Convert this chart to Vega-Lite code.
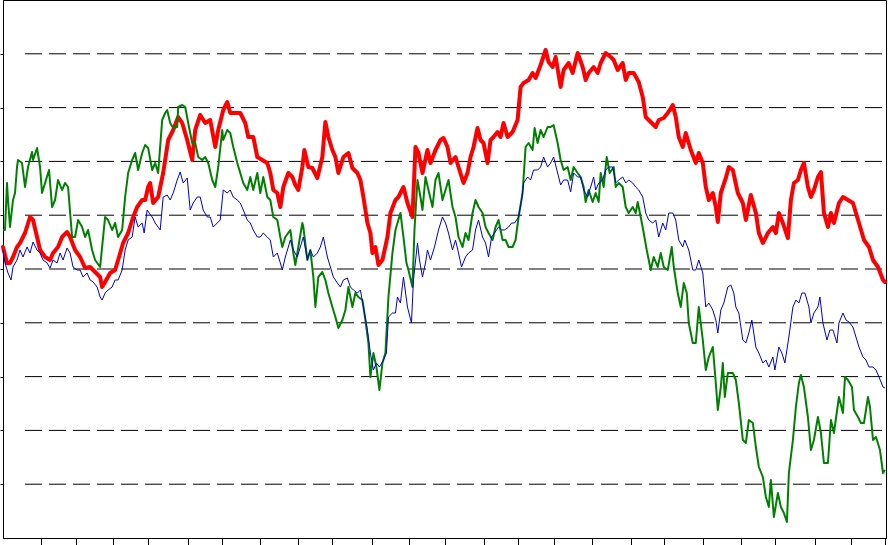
{
  "$schema": "https://vega.github.io/schema/vega-lite/v6.json",
  "width": 883,
  "height": 538,
  "autosize": {"type": "none"},
  "padding": {"left": 3, "top": 0, "right": 2, "bottom": 7},
  "background": "white",
  "config": {
    "view": {"stroke": "black", "strokeWidth": 1}
  },
  "datasets": {
    "grid": [{"g":53.8},{"g":107.6},{"g":161.4},{"g":215.2},{"g":269},{"g":322.8},{"g":376.6},{"g":430.4},{"g":484.2}],
    "red": [
      {"t":0,"v":291},{"t":4,"v":275},{"t":7,"v":275},{"t":10,"v":281},{"t":14,"v":291},{"t":17,"v":295},{"t":22,"v":305},{"t":27,"v":321},{"t":30,"v":318},{"t":34,"v":301},{"t":37,"v":288},{"t":42,"v":281},{"t":47,"v":278},{"t":50,"v":285},{"t":55,"v":291},{"t":59,"v":301},{"t":64,"v":306},{"t":67,"v":301},{"t":72,"v":288},{"t":77,"v":281},{"t":82,"v":270},{"t":87,"v":271},{"t":92,"v":266},{"t":97,"v":261},{"t":99,"v":251},{"t":102,"v":256},{"t":107,"v":265},{"t":112,"v":268},{"t":115,"v":278},{"t":120,"v":295},{"t":125,"v":305},{"t":130,"v":321},{"t":134,"v":331},{"t":139,"v":338},{"t":142,"v":338},{"t":145,"v":351},{"t":147,"v":355},{"t":150,"v":335},{"t":155,"v":341},{"t":160,"v":365},{"t":165,"v":398},{"t":170,"v":408},{"t":175,"v":421},{"t":179,"v":415},{"t":184,"v":398},{"t":189,"v":378},{"t":192,"v":408},{"t":197,"v":423},{"t":202,"v":415},{"t":207,"v":418},{"t":212,"v":391},{"t":215,"v":408},{"t":220,"v":428},{"t":224,"v":436},{"t":227,"v":425},{"t":232,"v":425},{"t":237,"v":425},{"t":242,"v":415},{"t":245,"v":401},{"t":250,"v":401},{"t":254,"v":381},{"t":259,"v":378},{"t":264,"v":375},{"t":267,"v":365},{"t":270,"v":348},{"t":274,"v":345},{"t":277,"v":331},{"t":280,"v":351},{"t":285,"v":365},{"t":289,"v":361},{"t":292,"v":353},{"t":295,"v":348},{"t":299,"v":371},{"t":301,"v":388},{"t":305,"v":371},{"t":309,"v":370},{"t":314,"v":360},{"t":319,"v":381},{"t":322,"v":416},{"t":325,"v":401},{"t":329,"v":388},{"t":332,"v":381},{"t":335,"v":365},{"t":340,"v":381},{"t":345,"v":385},{"t":349,"v":370},{"t":354,"v":365},{"t":357,"v":358},{"t":360,"v":341},{"t":364,"v":315},{"t":367,"v":305},{"t":369,"v":285},{"t":372,"v":291},{"t":375,"v":273},{"t":379,"v":278},{"t":384,"v":301},{"t":387,"v":325},{"t":392,"v":338},{"t":395,"v":341},{"t":400,"v":351},{"t":404,"v":335},{"t":409,"v":321},{"t":412,"v":391},{"t":415,"v":385},{"t":419,"v":365},{"t":424,"v":388},{"t":427,"v":375},{"t":432,"v":388},{"t":437,"v":398},{"t":440,"v":400},{"t":444,"v":391},{"t":447,"v":375},{"t":452,"v":381},{"t":455,"v":371},{"t":460,"v":355},{"t":464,"v":365},{"t":467,"v":381},{"t":470,"v":391},{"t":474,"v":410},{"t":477,"v":398},{"t":480,"v":395},{"t":484,"v":375},{"t":487,"v":398},{"t":490,"v":401},{"t":494,"v":406},{"t":497,"v":401},{"t":500,"v":415},{"t":504,"v":401},{"t":509,"v":406},{"t":514,"v":418},{"t":517,"v":451},{"t":520,"v":455},{"t":525,"v":458},{"t":529,"v":465},{"t":532,"v":460},{"t":537,"v":473},{"t":542,"v":488},{"t":545,"v":476},{"t":549,"v":471},{"t":552,"v":481},{"t":557,"v":451},{"t":560,"v":468},{"t":565,"v":475},{"t":569,"v":465},{"t":574,"v":485},{"t":579,"v":471},{"t":582,"v":458},{"t":585,"v":465},{"t":590,"v":471},{"t":594,"v":465},{"t":597,"v":475},{"t":602,"v":485},{"t":607,"v":481},{"t":610,"v":478},{"t":614,"v":468},{"t":619,"v":475},{"t":622,"v":458},{"t":625,"v":465},{"t":630,"v":465},{"t":635,"v":456},{"t":639,"v":441},{"t":642,"v":421},{"t":647,"v":416},{"t":652,"v":411},{"t":655,"v":418},{"t":660,"v":420},{"t":664,"v":425},{"t":669,"v":433},{"t":672,"v":421},{"t":675,"v":401},{"t":679,"v":391},{"t":682,"v":405},{"t":687,"v":388},{"t":692,"v":375},{"t":695,"v":385},{"t":699,"v":375},{"t":702,"v":351},{"t":705,"v":338},{"t":709,"v":345},{"t":712,"v":331},{"t":714,"v":316},{"t":717,"v":345},{"t":722,"v":360},{"t":725,"v":371},{"t":729,"v":368},{"t":734,"v":345},{"t":739,"v":335},{"t":742,"v":318},{"t":747,"v":343},{"t":752,"v":325},{"t":755,"v":305},{"t":759,"v":295},{"t":764,"v":305},{"t":769,"v":311},{"t":772,"v":305},{"t":775,"v":325},{"t":779,"v":315},{"t":784,"v":300},{"t":787,"v":338},{"t":790,"v":355},{"t":794,"v":358},{"t":797,"v":368},{"t":800,"v":375},{"t":804,"v":351},{"t":807,"v":341},{"t":810,"v":348},{"t":814,"v":361},{"t":817,"v":366},{"t":820,"v":325},{"t":824,"v":311},{"t":827,"v":325},{"t":830,"v":315},{"t":835,"v":335},{"t":839,"v":341},{"t":844,"v":338},{"t":849,"v":335},{"t":852,"v":325},{"t":855,"v":315},{"t":860,"v":298},{"t":865,"v":291},{"t":869,"v":278},{"t":874,"v":271},{"t":879,"v":258},{"t":881,"v":256}
    ],
    "green": [
      {"t":0,"v":308},{"t":2,"v":308},{"t":4,"v":355},{"t":5,"v":338},{"t":7,"v":311},{"t":10,"v":338},{"t":12,"v":345},{"t":14,"v":371},{"t":15,"v":378},{"t":19,"v":375},{"t":22,"v":351},{"t":25,"v":371},{"t":29,"v":386},{"t":30,"v":378},{"t":34,"v":390},{"t":37,"v":371},{"t":39,"v":345},{"t":42,"v":355},{"t":46,"v":368},{"t":49,"v":331},{"t":52,"v":338},{"t":55,"v":358},{"t":59,"v":348},{"t":62,"v":355},{"t":65,"v":351},{"t":69,"v":301},{"t":72,"v":301},{"t":75,"v":318},{"t":79,"v":311},{"t":82,"v":301},{"t":85,"v":308},{"t":89,"v":288},{"t":92,"v":278},{"t":97,"v":271},{"t":102,"v":321},{"t":105,"v":318},{"t":109,"v":308},{"t":112,"v":315},{"t":115,"v":301},{"t":119,"v":308},{"t":122,"v":341},{"t":125,"v":365},{"t":129,"v":378},{"t":132,"v":385},{"t":135,"v":368},{"t":139,"v":385},{"t":142,"v":393},{"t":145,"v":390},{"t":149,"v":368},{"t":152,"v":375},{"t":155,"v":365},{"t":159,"v":418},{"t":162,"v":425},{"t":164,"v":428},{"t":167,"v":415},{"t":170,"v":410},{"t":174,"v":411},{"t":175,"v":431},{"t":179,"v":433},{"t":182,"v":431},{"t":185,"v":415},{"t":189,"v":395},{"t":192,"v":395},{"t":195,"v":381},{"t":199,"v":378},{"t":202,"v":381},{"t":205,"v":375},{"t":209,"v":358},{"t":212,"v":351},{"t":215,"v":371},{"t":219,"v":408},{"t":220,"v":398},{"t":224,"v":408},{"t":227,"v":405},{"t":230,"v":391},{"t":234,"v":375},{"t":237,"v":365},{"t":240,"v":355},{"t":244,"v":348},{"t":247,"v":361},{"t":250,"v":348},{"t":254,"v":365},{"t":257,"v":345},{"t":260,"v":361},{"t":264,"v":341},{"t":267,"v":338},{"t":270,"v":321},{"t":274,"v":318},{"t":277,"v":301},{"t":279,"v":291},{"t":282,"v":301},{"t":287,"v":308},{"t":290,"v":285},{"t":292,"v":273},{"t":295,"v":291},{"t":299,"v":315},{"t":300,"v":311},{"t":304,"v":278},{"t":307,"v":288},{"t":310,"v":261},{"t":312,"v":231},{"t":315,"v":261},{"t":319,"v":266},{"t":322,"v":258},{"t":325,"v":245},{"t":329,"v":231},{"t":332,"v":221},{"t":335,"v":210},{"t":339,"v":218},{"t":342,"v":228},{"t":345,"v":251},{"t":349,"v":231},{"t":352,"v":245},{"t":355,"v":241},{"t":359,"v":238},{"t":362,"v":218},{"t":365,"v":195},{"t":367,"v":161},{"t":370,"v":185},{"t":373,"v":171},{"t":376,"v":148},{"t":379,"v":175},{"t":382,"v":185},{"t":385,"v":241},{"t":389,"v":285},{"t":392,"v":308},{"t":397,"v":325},{"t":400,"v":301},{"t":403,"v":275},{"t":405,"v":268},{"t":409,"v":251},{"t":411,"v":308},{"t":414,"v":358},{"t":417,"v":341},{"t":419,"v":328},{"t":422,"v":361},{"t":425,"v":348},{"t":429,"v":331},{"t":432,"v":358},{"t":435,"v":365},{"t":439,"v":338},{"t":442,"v":348},{"t":445,"v":358},{"t":449,"v":331},{"t":452,"v":321},{"t":455,"v":301},{"t":459,"v":291},{"t":462,"v":305},{"t":465,"v":298},{"t":469,"v":325},{"t":472,"v":338},{"t":475,"v":331},{"t":479,"v":325},{"t":482,"v":311},{"t":485,"v":305},{"t":489,"v":298},{"t":492,"v":311},{"t":495,"v":318},{"t":499,"v":298},{"t":502,"v":298},{"t":505,"v":291},{"t":509,"v":291},{"t":512,"v":298},{"t":515,"v":321},{"t":519,"v":345},{"t":522,"v":391},{"t":525,"v":395},{"t":529,"v":388},{"t":531,"v":410},{"t":534,"v":395},{"t":537,"v":408},{"t":540,"v":401},{"t":544,"v":411},{"t":547,"v":411},{"t":550,"v":413},{"t":554,"v":395},{"t":557,"v":378},{"t":560,"v":368},{"t":564,"v":371},{"t":567,"v":358},{"t":570,"v":371},{"t":574,"v":365},{"t":577,"v":361},{"t":580,"v":351},{"t":582,"v":336},{"t":585,"v":348},{"t":589,"v":336},{"t":592,"v":345},{"t":595,"v":336},{"t":597,"v":365},{"t":600,"v":351},{"t":603,"v":381},{"t":606,"v":365},{"t":610,"v":371},{"t":612,"v":351},{"t":615,"v":355},{"t":619,"v":351},{"t":622,"v":331},{"t":625,"v":325},{"t":629,"v":331},{"t":632,"v":325},{"t":634,"v":336},{"t":637,"v":321},{"t":640,"v":305},{"t":643,"v":288},{"t":647,"v":268},{"t":650,"v":281},{"t":654,"v":271},{"t":657,"v":285},{"t":660,"v":271},{"t":664,"v":268},{"t":668,"v":291},{"t":670,"v":271},{"t":674,"v":245},{"t":677,"v":231},{"t":680,"v":255},{"t":683,"v":245},{"t":685,"v":215},{"t":689,"v":195},{"t":692,"v":195},{"t":695,"v":231},{"t":699,"v":198},{"t":702,"v":168},{"t":705,"v":181},{"t":709,"v":191},{"t":712,"v":155},{"t":714,"v":128},{"t":717,"v":151},{"t":719,"v":175},{"t":721,"v":141},{"t":724,"v":165},{"t":729,"v":165},{"t":732,"v":158},{"t":735,"v":135},{"t":739,"v":98},{"t":742,"v":95},{"t":745,"v":118},{"t":749,"v":115},{"t":752,"v":91},{"t":755,"v":71},{"t":759,"v":61},{"t":762,"v":41},{"t":765,"v":31},{"t":767,"v":58},{"t":770,"v":21},{"t":774,"v":45},{"t":777,"v":31},{"t":780,"v":25},{"t":783,"v":16},{"t":785,"v":65},{"t":789,"v":98},{"t":792,"v":131},{"t":795,"v":155},{"t":797,"v":163},{"t":800,"v":151},{"t":804,"v":121},{"t":807,"v":88},{"t":810,"v":98},{"t":814,"v":121},{"t":817,"v":105},{"t":820,"v":75},{"t":824,"v":75},{"t":827,"v":118},{"t":830,"v":105},{"t":835,"v":141},{"t":839,"v":125},{"t":841,"v":161},{"t":844,"v":158},{"t":848,"v":151},{"t":850,"v":128},{"t":854,"v":121},{"t":857,"v":115},{"t":860,"v":115},{"t":864,"v":141},{"t":866,"v":131},{"t":869,"v":98},{"t":872,"v":101},{"t":876,"v":88},{"t":879,"v":65},{"t":881,"v":68}
    ],
    "blue": [
      {"t":0,"v":288},{"t":2,"v":275},{"t":5,"v":265},{"t":8,"v":258},{"t":10,"v":271},{"t":14,"v":278},{"t":17,"v":288},{"t":20,"v":281},{"t":24,"v":291},{"t":27,"v":285},{"t":30,"v":296},{"t":34,"v":288},{"t":37,"v":285},{"t":40,"v":278},{"t":44,"v":275},{"t":47,"v":270},{"t":50,"v":278},{"t":54,"v":275},{"t":57,"v":285},{"t":60,"v":278},{"t":64,"v":290},{"t":67,"v":285},{"t":70,"v":271},{"t":74,"v":268},{"t":77,"v":268},{"t":80,"v":261},{"t":84,"v":265},{"t":87,"v":258},{"t":90,"v":256},{"t":94,"v":251},{"t":97,"v":241},{"t":99,"v":238},{"t":102,"v":245},{"t":105,"v":248},{"t":109,"v":251},{"t":112,"v":258},{"t":115,"v":258},{"t":119,"v":268},{"t":122,"v":288},{"t":125,"v":298},{"t":129,"v":301},{"t":132,"v":321},{"t":135,"v":311},{"t":139,"v":315},{"t":141,"v":305},{"t":144,"v":328},{"t":146,"v":325},{"t":149,"v":321},{"t":152,"v":315},{"t":157,"v":308},{"t":160,"v":341},{"t":164,"v":343},{"t":167,"v":338},{"t":170,"v":345},{"t":174,"v":358},{"t":177,"v":366},{"t":180,"v":355},{"t":184,"v":360},{"t":187,"v":328},{"t":190,"v":335},{"t":194,"v":341},{"t":197,"v":341},{"t":200,"v":328},{"t":204,"v":321},{"t":207,"v":321},{"t":210,"v":311},{"t":214,"v":315},{"t":217,"v":318},{"t":220,"v":348},{"t":224,"v":345},{"t":227,"v":348},{"t":230,"v":341},{"t":234,"v":338},{"t":237,"v":335},{"t":240,"v":328},{"t":244,"v":318},{"t":247,"v":315},{"t":250,"v":308},{"t":254,"v":301},{"t":257,"v":301},{"t":260,"v":305},{"t":264,"v":301},{"t":267,"v":298},{"t":270,"v":281},{"t":274,"v":285},{"t":277,"v":275},{"t":279,"v":268},{"t":282,"v":281},{"t":285,"v":291},{"t":287,"v":298},{"t":290,"v":288},{"t":294,"v":281},{"t":297,"v":291},{"t":300,"v":301},{"t":304,"v":278},{"t":307,"v":288},{"t":310,"v":281},{"t":314,"v":285},{"t":317,"v":291},{"t":320,"v":301},{"t":324,"v":281},{"t":327,"v":271},{"t":330,"v":261},{"t":334,"v":255},{"t":337,"v":251},{"t":340,"v":258},{"t":344,"v":260},{"t":347,"v":251},{"t":350,"v":248},{"t":354,"v":245},{"t":357,"v":248},{"t":360,"v":231},{"t":364,"v":208},{"t":367,"v":185},{"t":370,"v":168},{"t":373,"v":175},{"t":376,"v":171},{"t":380,"v":178},{"t":383,"v":185},{"t":385,"v":221},{"t":389,"v":225},{"t":392,"v":225},{"t":394,"v":241},{"t":397,"v":235},{"t":400,"v":261},{"t":404,"v":231},{"t":408,"v":215},{"t":410,"v":258},{"t":414,"v":295},{"t":416,"v":278},{"t":419,"v":261},{"t":422,"v":275},{"t":424,"v":288},{"t":427,"v":278},{"t":431,"v":291},{"t":435,"v":308},{"t":439,"v":321},{"t":442,"v":315},{"t":445,"v":305},{"t":449,"v":288},{"t":452,"v":298},{"t":455,"v":285},{"t":458,"v":271},{"t":462,"v":281},{"t":465,"v":285},{"t":469,"v":288},{"t":472,"v":308},{"t":475,"v":318},{"t":479,"v":301},{"t":482,"v":295},{"t":485,"v":281},{"t":488,"v":301},{"t":491,"v":305},{"t":495,"v":311},{"t":498,"v":308},{"t":501,"v":308},{"t":505,"v":311},{"t":508,"v":315},{"t":511,"v":315},{"t":515,"v":321},{"t":518,"v":338},{"t":520,"v":355},{"t":524,"v":361},{"t":527,"v":358},{"t":530,"v":368},{"t":534,"v":368},{"t":537,"v":371},{"t":540,"v":381},{"t":544,"v":371},{"t":547,"v":375},{"t":550,"v":381},{"t":554,"v":365},{"t":557,"v":353},{"t":560,"v":358},{"t":564,"v":358},{"t":567,"v":346},{"t":570,"v":365},{"t":574,"v":361},{"t":577,"v":361},{"t":580,"v":348},{"t":584,"v":341},{"t":587,"v":351},{"t":590,"v":361},{"t":592,"v":348},{"t":595,"v":355},{"t":599,"v":358},{"t":602,"v":368},{"t":605,"v":371},{"t":609,"v":371},{"t":612,"v":355},{"t":615,"v":358},{"t":619,"v":361},{"t":622,"v":355},{"t":625,"v":358},{"t":629,"v":355},{"t":632,"v":351},{"t":635,"v":348},{"t":639,"v":341},{"t":642,"v":325},{"t":645,"v":318},{"t":649,"v":315},{"t":652,"v":318},{"t":655,"v":301},{"t":659,"v":315},{"t":662,"v":308},{"t":665,"v":325},{"t":669,"v":325},{"t":672,"v":318},{"t":675,"v":298},{"t":679,"v":291},{"t":681,"v":298},{"t":685,"v":288},{"t":689,"v":268},{"t":692,"v":268},{"t":695,"v":278},{"t":699,"v":265},{"t":702,"v":231},{"t":705,"v":235},{"t":709,"v":228},{"t":712,"v":218},{"t":714,"v":205},{"t":717,"v":228},{"t":720,"v":235},{"t":724,"v":251},{"t":727,"v":253},{"t":730,"v":245},{"t":732,"v":231},{"t":735,"v":225},{"t":739,"v":198},{"t":742,"v":195},{"t":745,"v":205},{"t":748,"v":218},{"t":752,"v":191},{"t":755,"v":185},{"t":759,"v":175},{"t":762,"v":178},{"t":765,"v":171},{"t":769,"v":181},{"t":771,"v":168},{"t":775,"v":191},{"t":778,"v":185},{"t":781,"v":175},{"t":785,"v":201},{"t":789,"v":231},{"t":792,"v":238},{"t":795,"v":235},{"t":798,"v":245},{"t":801,"v":245},{"t":805,"v":231},{"t":807,"v":215},{"t":810,"v":225},{"t":814,"v":231},{"t":816,"v":241},{"t":819,"v":215},{"t":823,"v":198},{"t":826,"v":208},{"t":829,"v":208},{"t":833,"v":195},{"t":835,"v":215},{"t":839,"v":225},{"t":842,"v":218},{"t":845,"v":216},{"t":849,"v":211},{"t":852,"v":201},{"t":855,"v":191},{"t":859,"v":181},{"t":862,"v":178},{"t":865,"v":171},{"t":869,"v":171},{"t":872,"v":168},{"t":875,"v":161},{"t":879,"v":151},{"t":881,"v":150}
    ]
  },
  "layer": [
    {
      "data": {"name": "grid"},
      "mark": {"type": "rule", "color": "black", "strokeWidth": 1, "strokeDash": [17, 7]},
      "encoding": {
        "x": {
          "datum": 22, "type": "quantitative",
          "scale": {"domain": [0, 882], "nice": false, "zero": false},
          "axis": {
            "title": null, "labels": false, "grid": false, "labelOverlap": false, "labelBound": false,
            "values": [38, 73, 110, 145, 185, 219, 257, 295, 329, 369, 406, 441, 480, 514, 550, 588, 627, 660, 699, 737, 771, 811, 847, 881],
            "tickCount": 50,
            "tickSize": 7, "tickColor": "black", "tickWidth": 1,
            "domainColor": "black", "domainWidth": 1
          }
        },
        "x2": {"datum": 881},
        "y": {
          "field": "g", "type": "quantitative",
          "scale": {"domain": [0, 538], "nice": false, "zero": true},
          "axis": {
            "title": null, "labels": false, "labelOverlap": false,
            "values": [53.8, 107.6, 161.4, 215.2, 269, 322.8, 376.6, 430.4, 484.2],
            "tickCount": 20,
            "grid": false,
            "tickSize": 3, "tickColor": "black",
            "domainColor": "black"
          }
        }
      }
    },
    {
      "data": {"name": "red"},
      "mark": {"type": "line", "color": "#FF0000", "strokeWidth": 4, "strokeJoin": "round", "strokeCap": "round"},
      "encoding": {
        "x": {"field": "t", "type": "quantitative"},
        "y": {"field": "v", "type": "quantitative"}
      }
    },
    {
      "data": {"name": "green"},
      "mark": {"type": "line", "color": "#008000", "strokeWidth": 2, "strokeJoin": "round"},
      "encoding": {
        "x": {"field": "t", "type": "quantitative"},
        "y": {"field": "v", "type": "quantitative"}
      }
    },
    {
      "data": {"name": "blue"},
      "mark": {"type": "line", "color": "#0000CC", "strokeWidth": 1, "strokeJoin": "round"},
      "encoding": {
        "x": {"field": "t", "type": "quantitative"},
        "y": {"field": "v", "type": "quantitative"}
      }
    }
  ]
}
